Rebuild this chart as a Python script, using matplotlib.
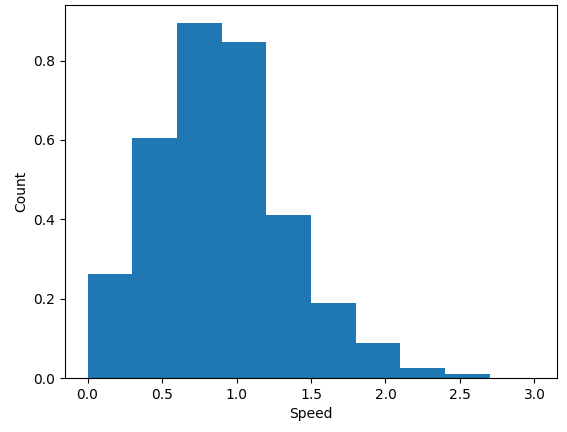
import numpy as np
import matplotlib.pyplot as plt

bin_edges = np.linspace(0.0, 3.0, 11)
densities = [0.262, 0.605, 0.895, 0.848, 0.412, 0.188, 0.088, 0.025, 0.010, 0.001]

fig = plt.figure(figsize=(5.67, 4.32), dpi=100)
fig.subplots_adjust(left=0.115, right=0.982, top=0.988, bottom=0.125)
plt.hist(bin_edges[:-1], bins=bin_edges, weights=densities, color='#1f77b4')
plt.xlabel('Speed')
plt.ylabel('Count')
plt.savefig('out.png')
